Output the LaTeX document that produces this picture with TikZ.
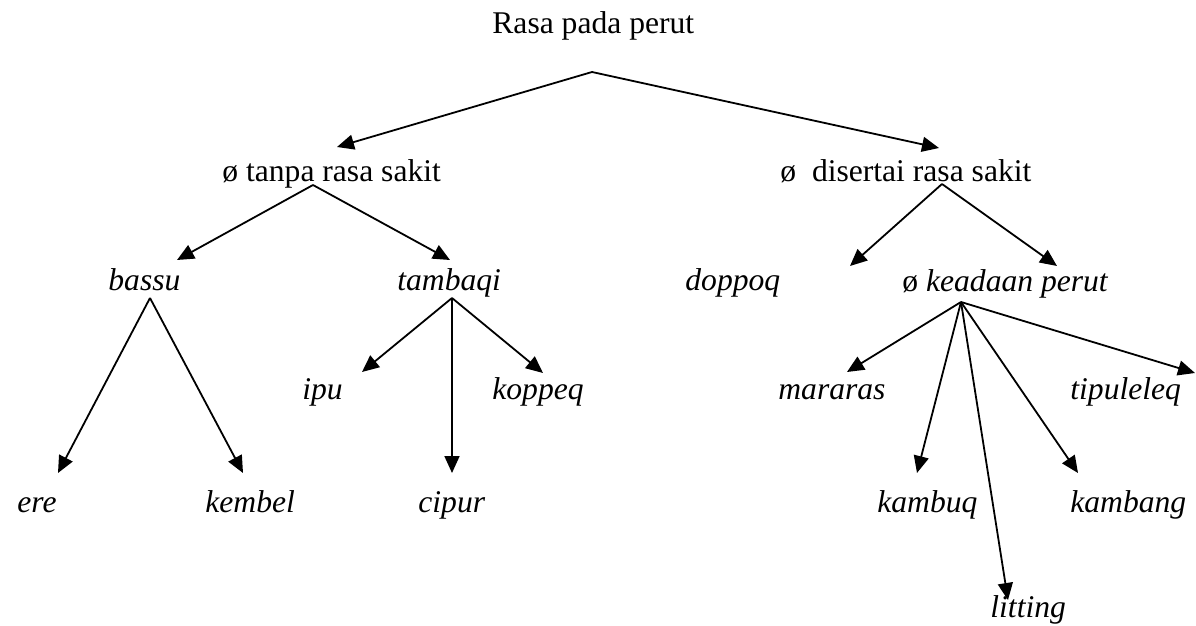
\documentclass[tikz,border=0pt]{standalone}
\usepackage{fontspec}
\setmainfont{Liberation Serif}
\usetikzlibrary{arrows.meta}
\begin{document}
\begin{tikzpicture}[x=0.5pt,y=-0.5pt,
  lbl/.style={inner sep=0pt, anchor=base west, font=\fontsize{15.8}{19}\selectfont},
  it/.style={lbl, font=\fontsize{15.8}{19}\selectfont\itshape},
  arr/.style={line width=0.9pt, -{Triangle[length=8.5pt,width=7.5pt]}}]
\useasboundingbox (0,0) rectangle (1196,626);
% labels
\node[lbl] (rasa) at (492,34) {Rasa pada perut};
\node[lbl] (tanpa) at (222,182) {ø tanpa rasa sakit};
\node[lbl] (disertai) at (780,182) {ø\ \ disertai rasa sakit};
\node[it] (bassu) at (108,291) {bassu};
\node[it] (tambaqi) at (397,291) {tambaqi};
\node[it] (doppoq) at (685,291) {doppoq};
\node[lbl] (keadaan) at (902,292) {ø {\itshape keadaan perut}};
\node[it] (ipu) at (302,400) {ipu};
\node[it] (koppeq) at (492,400) {koppeq};
\node[it] (mararas) at (778,400) {mararas};
\node[it] (tipuleleq) at (1070,400) {tipuleleq};
\node[it] (ere) at (17,512) {ere};
\node[it] (kembel) at (205,512) {kembel};
\node[it] (cipur) at (418,512) {cipur};
\node[it] (kambuq) at (877,512) {kambuq};
\node[it] (kambang) at (1070,512) {kambang};
\node[it] (litting) at (990,617) {litting};
% apexes
\coordinate (rasaA) at (592,72);
\coordinate (tanpaA) at (313,185);
\coordinate (disertaiA) at (942,184);
\coordinate (bassuA) at (150,298);
\coordinate (tambaqiA) at (452,298);
\coordinate (keadaanA) at (961,302);
% tips
\coordinate (tanpaT) at (337,147);
\coordinate (disertaiT) at (939,148);
\coordinate (bassuT) at (177,260);
\coordinate (tambaqiT) at (450,260);
\coordinate (doppoqT) at (850,266);
\coordinate (keadaanT) at (1057,266);
\coordinate (ereT) at (58,473);
\coordinate (kembelT) at (243,473);
\coordinate (ipuT) at (362,372);
\coordinate (cipurT) at (452,473);
\coordinate (koppeqT) at (543,373);
\coordinate (mararasT) at (847,372);
\coordinate (kambuqT) at (917,473);
\coordinate (littingT) at (1008,600);
\coordinate (kambangT) at (1078,473);
\coordinate (tipuleleqT) at (1195,373);
% connectors
\draw[arr] (rasaA) -- (tanpaT);
\draw[arr] (rasaA) -- (disertaiT);
\draw[arr] (tanpaA) -- (bassuT);
\draw[arr] (tanpaA) -- (tambaqiT);
\draw[arr] (disertaiA) -- (doppoqT);
\draw[arr] (disertaiA) -- (keadaanT);
\draw[arr] (bassuA) -- (ereT);
\draw[arr] (bassuA) -- (kembelT);
\draw[arr] (tambaqiA) -- (ipuT);
\draw[arr] (tambaqiA) -- (cipurT);
\draw[arr] (tambaqiA) -- (koppeqT);
\draw[arr] (keadaanA) -- (mararasT);
\draw[arr] (keadaanA) -- (kambuqT);
\draw[arr] (keadaanA) -- (littingT);
\draw[arr] (keadaanA) -- (kambangT);
\draw[arr] (keadaanA) -- (tipuleleqT);
\end{tikzpicture}
\end{document}
